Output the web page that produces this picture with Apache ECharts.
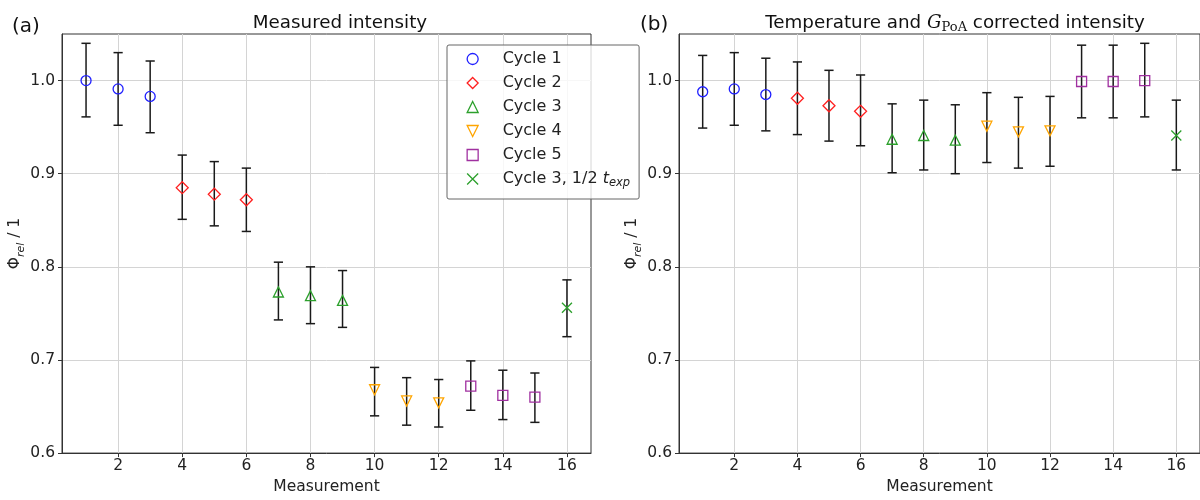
<!DOCTYPE html>
<html>
<head>
<meta charset="utf-8">
<script src="https://cdn.jsdelivr.net/npm/echarts@6/dist/echarts.min.js"></script>
<style>
  html, body { margin: 0; padding: 0; background: #ffffff; }
  #chart { width: 1200px; height: 500px; }
</style>
</head>
<body>
<div id="chart"></div>
<script>
// ---------------- data ----------------
const measurement = [1, 2, 3, 4, 5, 6, 7, 8, 9, 10, 11, 12, 13, 14, 15, 16];
const cycleNames = ['Cycle 1', 'Cycle 2', 'Cycle 3', 'Cycle 4', 'Cycle 5', 'Cycle 3, 1/2 t_exp'];
const cycleOfPoint = [0, 0, 0, 1, 1, 1, 2, 2, 2, 3, 3, 3, 4, 4, 4, 5];

const measuredValue = [1.000, 0.991, 0.983, 0.885, 0.878, 0.872, 0.773, 0.769, 0.764, 0.668, 0.656, 0.654, 0.672, 0.662, 0.660, 0.756];
const measuredLow   = [0.961, 0.952, 0.944, 0.851, 0.844, 0.838, 0.743, 0.739, 0.735, 0.640, 0.630, 0.628, 0.646, 0.636, 0.633, 0.725];
const measuredHigh  = [1.040, 1.030, 1.021, 0.920, 0.913, 0.906, 0.805, 0.800, 0.796, 0.692, 0.681, 0.679, 0.699, 0.689, 0.686, 0.786];

const correctedValue = [0.988, 0.991, 0.985, 0.981, 0.973, 0.967, 0.937, 0.941, 0.936, 0.951, 0.945, 0.946, 0.999, 0.999, 1.000, 0.941];
const correctedLow   = [0.949, 0.952, 0.946, 0.942, 0.935, 0.930, 0.901, 0.904, 0.900, 0.912, 0.906, 0.908, 0.960, 0.960, 0.961, 0.904];
const correctedHigh  = [1.027, 1.030, 1.024, 1.020, 1.011, 1.006, 0.975, 0.979, 0.974, 0.987, 0.982, 0.983, 1.038, 1.038, 1.040, 0.979];

const xTicks = [2, 4, 6, 8, 10, 12, 14, 16];
const yTicks = [0.6, 0.7, 0.8, 0.9, 1.0];

const panelTitles = ['Measured intensity', '{t|Temperature and }{g|G}{p|PoA}{t| corrected intensity}'];
const panelLetters = ['(a)', '(b)'];
const xAxisName = 'Measurement';

// ---------------- styles ----------------
const FONT = 'DejaVu Sans';
const cycleColors = ['#2020ff', '#ff2020', '#2ca02c', '#ffa500', '#a030a0', '#2ca02c'];
const cycleSymbols = [
  'circle',
  'diamond',
  'triangle',
  'path://M0,0L20,0L10,20Z',
  'rect',
  'path://M0,0L20,20M20,0L0,20'
];
const cycleSizes = [10, 12, 10, 10, 10, 10];

const chart = echarts.init(document.getElementById('chart'), null, { renderer: 'canvas' });

function errorRender(params, api) {
  const x = api.value(0), lo = api.value(1), hi = api.value(2);
  const pLo = api.coord([x, lo]);
  const pHi = api.coord([x, hi]);
  const hw = 4.6;
  const st = { stroke: '#1a1a1a', lineWidth: 1.5 };
  return {
    type: 'group',
    children: [
      { type: 'line', shape: { x1: pLo[0], y1: pLo[1], x2: pHi[0], y2: pHi[1] }, style: st },
      { type: 'line', shape: { x1: pLo[0] - hw, y1: pLo[1], x2: pLo[0] + hw, y2: pLo[1] }, style: st },
      { type: 'line', shape: { x1: pHi[0] - hw, y1: pHi[1], x2: pHi[0] + hw, y2: pHi[1] }, style: st }
    ]
  };
}

const grids = [
  { left: 62, top: 34, width: 529, height: 430 },
  { left: 679, top: 34, width: 529, height: 430 }
];

const xAxes = grids.map((g, i) => ({
  gridIndex: i,
  type: 'value',
  min: 0.25,
  max: 16.75,
  name: xAxisName,
  nameLocation: 'middle',
  nameGap: 20,
  nameTextStyle: { fontFamily: FONT, fontSize: 15.5, color: '#222' },
  axisLine: { show: true, lineStyle: { color: '#333', width: 1 } },
  axisTick: { show: true, inside: false, length: 4, customValues: xTicks, lineStyle: { color: '#333' } },
  axisLabel: { customValues: xTicks, margin: 5, fontFamily: FONT, fontSize: 15.5, color: '#222' },
  splitLine: { show: true, lineStyle: { color: '#d4d4d4', width: 1 } }
}));

const yAxes = grids.map((g, i) => ({
  gridIndex: i,
  type: 'value',
  min: 0.6,
  max: 1.05,
  name: '{p|Φ}{s|rel}{p| / 1}',
  nameLocation: 'middle',
  nameRotate: 90,
  nameGap: 31,
  nameTextStyle: {
    fontFamily: FONT, fontSize: 15.5, color: '#222',
    rich: {
      p: { fontFamily: FONT, fontSize: 15.5, lineHeight: 22, color: '#222' },
      s: { fontFamily: FONT, fontSize: 11, fontStyle: 'italic', lineHeight: 11, verticalAlign: 'bottom', color: '#222' }
    }
  },
  axisLine: { show: true, lineStyle: { color: '#333', width: 1 } },
  axisTick: { show: true, inside: false, length: 4, customValues: yTicks, lineStyle: { color: '#333' } },
  axisLabel: { customValues: yTicks, margin: 7, fontFamily: FONT, fontSize: 15.5, color: '#222',
               formatter: v => Number(v).toFixed(1) },
  splitLine: { show: true, lineStyle: { color: '#d4d4d4', width: 1 } }
}));

const panels = [
  { value: measuredValue, low: measuredLow, high: measuredHigh },
  { value: correctedValue, low: correctedLow, high: correctedHigh }
];

const series = [];
panels.forEach((p, pi) => {
  series.push({
    type: 'custom',
    xAxisIndex: pi, yAxisIndex: pi,
    renderItem: errorRender,
    encode: { x: 0, y: [1, 2] },
    data: measurement.map((m, i) => [m, p.low[i], p.high[i]]),
    z: 2,
    silent: true
  });
  cycleNames.forEach((name, ci) => {
    const pts = [];
    measurement.forEach((m, i) => { if (cycleOfPoint[i] === ci) pts.push([m, p.value[i]]); });
    series.push({
      type: 'scatter',
      name: name,
      xAxisIndex: pi, yAxisIndex: pi,
      symbol: cycleSymbols[ci],
      symbolSize: cycleSizes[ci],
      itemStyle: { color: 'rgba(255,255,255,0)', borderColor: cycleColors[ci], borderWidth: 1.3, opacity: 1 },
      data: pts,
      z: 4
    });
  });
});

const option = {
  animation: false,
  backgroundColor: '#ffffff',
  grid: grids.map(g => Object.assign({ show: true, borderColor: '#333', borderWidth: 1, backgroundColor: 'rgba(0,0,0,0)' }, g)),
  xAxis: xAxes,
  yAxis: yAxes,
  title: [
    { text: panelTitles[0], left: 340, top: 12.5, textAlign: 'center', padding: 0,
      textStyle: { fontFamily: FONT, fontSize: 18.3, fontWeight: 'normal', color: '#111', lineHeight: 22 } },
    { text: panelTitles[1], left: 955, top: 12.5, textAlign: 'center', padding: 0,
      textStyle: { fontFamily: FONT, fontSize: 18.3, fontWeight: 'normal', color: '#111', lineHeight: 22,
        rich: {
          t: { fontFamily: FONT, fontSize: 18.3, lineHeight: 22, color: '#111' },
          g: { fontFamily: 'DejaVu Serif', fontStyle: 'italic', fontSize: 18.3, lineHeight: 22, color: '#111' },
          p: { fontFamily: 'DejaVu Serif', fontSize: 13, lineHeight: 13, verticalAlign: 'bottom', color: '#111' }
        } } },
    { text: panelLetters[0], left: 12, top: 15, padding: 0,
      textStyle: { fontFamily: FONT, fontSize: 20, fontWeight: 'normal', color: '#111', lineHeight: 24 } },
    { text: panelLetters[1], left: 640, top: 13, padding: 0,
      textStyle: { fontFamily: FONT, fontSize: 20, fontWeight: 'normal', color: '#111', lineHeight: 24 } }
  ],
  legend: {
    data: cycleNames,
    orient: 'vertical',
    left: 447,
    top: 45,
    padding: [6, 9, 10, 19.5],
    itemGap: 8,
    itemWidth: 11,
    itemHeight: 11,
    backgroundColor: 'rgba(255,255,255,0.8)',
    borderColor: '#666',
    borderWidth: 1,
    borderRadius: 2,
    itemStyle: { borderWidth: 1.3 },
    selectedMode: false,
    formatter: function (name) {
      if (name.indexOf('_') >= 0) {
        const parts = name.split('_');
        const base = parts[0].slice(0, -1);
        return '{n|' + base + '}{t|t}{s|' + parts[1] + '}';
      }
      return '{n|' + name + '}';
    },
    textStyle: {
      fontFamily: FONT, fontSize: 16, color: '#222',
      rich: {
        n: { fontFamily: FONT, fontSize: 16, lineHeight: 16, color: '#222', padding: [0, 0, 0, 19.5] },
        t: { fontFamily: FONT, fontSize: 16, fontStyle: 'italic', lineHeight: 20, color: '#222' },
        s: { fontFamily: FONT, fontSize: 11.5, fontStyle: 'italic', lineHeight: 11, verticalAlign: 'bottom', color: '#222' }
      }
    }
  },
  series: series
};

chart.setOption(option);
</script>
</body>
</html>
